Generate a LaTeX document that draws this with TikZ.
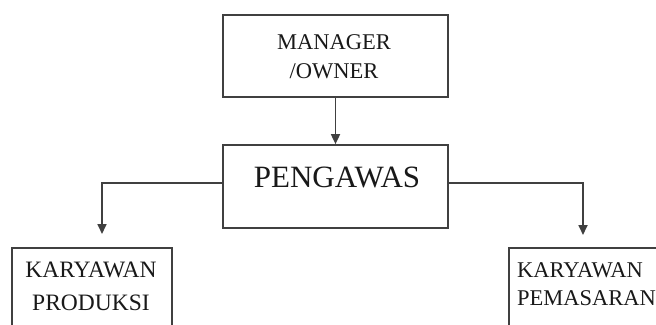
\documentclass[tikz,border=0pt]{standalone}
\usepackage{fontspec}
\setmainfont{Liberation Serif}
\usetikzlibrary{arrows.meta}
\begin{document}
\begin{tikzpicture}[x=1pt,y=-1pt,
  box/.style={draw=black!75,line width=1.7pt,rectangle,inner sep=0pt},
  lbl/.style={align=center,text=black!90,font=\fontsize{22}{30}\selectfont},
  arr/.style={draw=black!75,line width=1.7pt,-{Triangle[length=10pt,width=9pt]}}]
\fill[white] (0,0) rectangle (656,324);
\useasboundingbox (0,0) rectangle (656,324);
\clip (0,0) rectangle (656,324);
% boxes
\node[box,minimum width=225pt,minimum height=82pt] (mg) at (335.5,56) {};
\node[lbl,font=\fontsize{22.5}{29}\selectfont] (mgt) at (334,57) {MANAGER\\/OWNER};
\node[box,minimum width=225pt,minimum height=83pt] (pg) at (335.5,186.5) {};
\node[lbl,font=\fontsize{31}{36}\selectfont] (pgt) at (337,177) {PENGAWAS};
\node[box,minimum width=160pt,minimum height=110pt,anchor=north west] (kp) at (11,247) {};
\node[lbl,font=\fontsize{23.5}{33}\selectfont] (kpt) at (91,286) {KARYAWAN\\PRODUKSI};
\node[box,minimum width=170pt,minimum height=110pt,anchor=north west] (km) at (508,247) {};
\node[lbl,align=left,anchor=west,inner xsep=0pt,font=\fontsize{22.5}{28}\selectfont] (kmt) at (517,284) {KARYAWAN\\PEMASARAN};
% connector ends
\coordinate (lt) at (102,234);
\coordinate (rt) at (583,235);
\draw[arr] (mg.south) -- (pg.north);
\draw[arr] ([yshift=3.5pt]pg.west) -| (lt);
\draw[arr] ([yshift=3.5pt]pg.east) -| (rt);
\end{tikzpicture}
\end{document}
